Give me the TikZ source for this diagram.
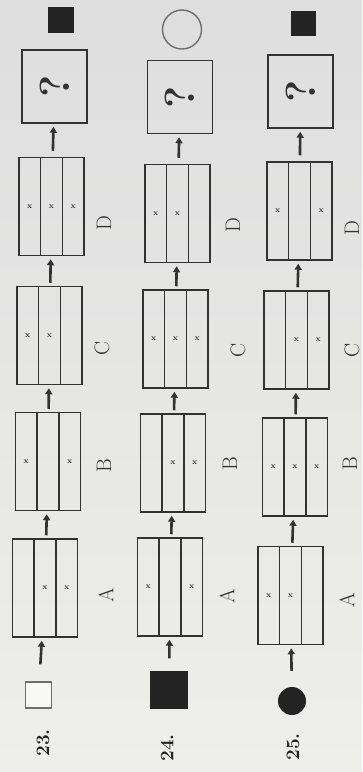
\documentclass[tikz,border=0pt]{standalone}
\usetikzlibrary{arrows.meta}
\definecolor{inkc}{RGB}{50,50,50}
\definecolor{softc}{RGB}{110,110,110}
\definecolor{bgtop}{RGB}{222,222,222}
\definecolor{bgbot}{RGB}{238,238,236}
\definecolor{solidc}{RGB}{35,35,35}
\newcommand\panelbox[3]{%
  \node[strips] (#1) at (#2) {};
  \foreach \k in {#3} {\node[xm] (#1m\k) at ([xshift={(\k-2)*21.67pt}]#1.center) {x};}%
}
\begin{document}
\begin{tikzpicture}[x=1pt,y=-1pt,
  strips/.style={draw=inkc, line width=1.5pt, minimum width=65pt, minimum height=98pt, inner sep=0pt,
    path picture={
      \draw[inkc,line width=1.5pt] ([xshift=-10.83pt]path picture bounding box.north) -- ([xshift=-10.83pt]path picture bounding box.south);
      \draw[inkc,line width=1.5pt] ([xshift=10.83pt]path picture bounding box.north) -- ([xshift=10.83pt]path picture bounding box.south);
    }},
  xm/.style={inner sep=0pt, text=inkc, font=\fontsize{8}{8}\selectfont\bfseries},
  qbox/.style={draw=inkc, line width=1.5pt, minimum width=65pt, minimum height=73pt, inner sep=0pt, text=inkc,
    font=\fontsize{42}{42}\selectfont\bfseries},
  solidsq/.style={fill=solidc, draw=none, minimum size=#1, inner sep=0pt},
  whitesq/.style={draw=softc, line width=1.4pt, fill=white!60!bgbot, minimum size=#1, inner sep=0pt},
  ring/.style={circle, draw=softc, line width=1.4pt, minimum size=#1, inner sep=0pt},
  disc/.style={circle, fill=solidc, minimum size=#1, inner sep=0pt},
  lett/.style={rotate=90, text=inkc, inner sep=0pt, font=\fontsize{21}{21}\selectfont},
  num/.style={rotate=90, text=solidc, inner sep=0pt, font=\fontsize{19}{19}\selectfont\bfseries},
  arr/.style={draw=inkc, line width=2.6pt, -{Triangle[width=7pt,length=6pt]}, shorten <=#1, shorten >=3pt},
  arr/.default=3pt
]
\shade[top color=bgtop, bottom color=bgbot] (0,0) rectangle (362,772);
\useasboundingbox (0,0) rectangle (362,772);

% ---- 23 ----
\node[solidsq=26pt] (R23) at (61,20) {};
\node[qbox] (Q23) at (54.5,86.5) {\rotatebox{90}{?}};
\panelbox{D23}{51.5,206.5}{1,2,3}
\panelbox{C23}{49.5,335.5}{1,2}
\panelbox{B23}{48,461.5}{1,3}
\panelbox{A23}{45,588}{2,3}
\node[whitesq=26pt] (S23) at (38.5,695) {};
\node[num] (N23) at (43,743) {23.};
\node[lett] (LD23) at (104,223) {D};
\node[lett] (LC23) at (102,348) {C};
\node[lett] (LB23) at (104,466) {B};
\node[lett] (LA23) at (106,595) {A};
\draw[arr=17pt] (S23) -- (A23);
\draw[arr] (A23) -- (B23);
\draw[arr] (B23) -- (C23);
\draw[arr] (C23) -- (D23);
\draw[arr=6pt] (D23) -- (Q23);

% ---- 24 ----
\node[ring=39pt] (R24) at (182,29.5) {};
\node[qbox] (Q24) at (180,97) {\rotatebox{90}{?}};
\panelbox{D24}{177.5,213.5}{1,2}
\panelbox{C24}{175.5,339}{1,2,3}
\panelbox{B24}{173,463}{2,3}
\panelbox{A24}{170,587}{1,3}
\node[solidsq=38pt] (S24) at (169,689.5) {};
\node[num] (N24) at (167,748) {24.};
\node[lett] (LD24) at (233,225) {D};
\node[lett] (LC24) at (238,350) {C};
\node[lett] (LB24) at (230,464) {B};
\node[lett] (LA24) at (227,596) {A};
\draw[arr=12pt] (S24) -- (A24);
\draw[arr] (A24) -- (B24);
\draw[arr] (B24) -- (C24);
\draw[arr] (C24) -- (D24);
\draw[arr=6pt] (D24) -- (Q24);

% ---- 25 ----
\node[solidsq=25pt] (R25) at (303,23.5) {};
\node[qbox] (Q25) at (300.5,91.5) {\rotatebox{90}{?}};
\panelbox{D25}{299.5,211}{1,3}
\panelbox{C25}{296.5,340}{2,3}
\panelbox{B25}{295,467}{1,2,3}
\panelbox{A25}{290.5,595.5}{1,2}
\node[disc=28pt] (S25) at (292,701) {};
\node[num] (N25) at (293,747) {25.};
\node[lett] (LD25) at (352,228) {D};
\node[lett] (LC25) at (352,350) {C};
\node[lett] (LB25) at (350,464) {B};
\node[lett] (LA25) at (347,600) {A};
\draw[arr=16pt] (S25) -- (A25);
\draw[arr] (A25) -- (B25);
\draw[arr] (B25) -- (C25);
\draw[arr] (C25) -- (D25);
\draw[arr=6pt] (D25) -- (Q25);
\end{tikzpicture}
\end{document}
